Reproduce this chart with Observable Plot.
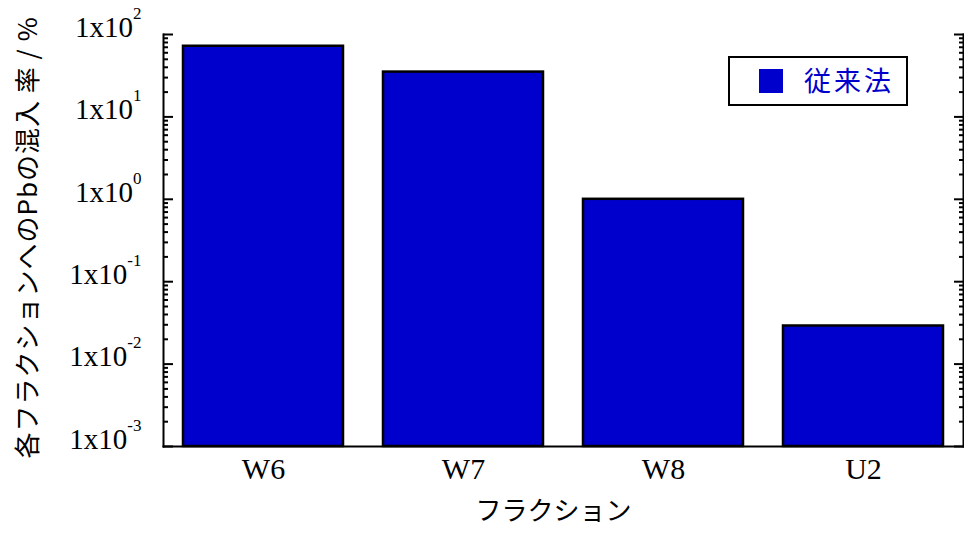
<!DOCTYPE html>
<html>
<head>
<meta charset="utf-8">
<script src="https://cdn.jsdelivr.net/npm/d3@7"></script>
<script src="https://cdn.jsdelivr.net/npm/@observablehq/plot@0.6"></script>
<style>
  html, body { margin: 0; padding: 0; background: #fff; }
  #wrap { position: relative; width: 964px; height: 533px; }
  #legend {
    position: absolute; left: 728px; top: 56px; width: 180px; height: 50px;
    box-sizing: border-box; border: 2px solid #000; background: #fff;
  }
  #legend .sw { position: absolute; left: 29px; top: 11px; width: 24px; height: 24px; background: #0000cd; }
  #legend .lb {
    position: absolute; left: 74px; top: 4px; font: 27px "Noto Sans CJK JP", sans-serif;
    color: #0000cc; line-height: 36px; letter-spacing: 3px;
  }
  .ylabel { letter-spacing: 1px; }
</style>
</head>
<body>
<div id="wrap"></div>
<script>
// Pb carry-over into each fraction (conventional method), percent, log scale
const fractions = ["W6", "W7", "W8", "U2"];
const values = [72, 35, 1.0, 0.029];
const seriesName = "従来法";
const yDomain = [1e-3, 1e2];
const majorTicks = [1e-3, 1e-2, 1e-1, 1e0, 1e1, 1e2];
const exponents = ["-3", "-2", "-1", "0", "1", "2"];
const yLabel = "各フラクションへのPbの混入 率 / %";
const xLabel = "フラクション";

const minorTicks = [];
for (const m of majorTicks.slice(0, -1)) for (let k = 2; k <= 9; k++) minorTicks.push(m * k);

const data = fractions.map((f, i) => ({fraction: f, value: values[i]}));
const expOf = new Map(majorTicks.map((t, i) => [t, exponents[i]]));

const serif = "'Liberation Serif', 'Times New Roman', serif";
const blank = () => "";

const chart = Plot.plot({
  width: 964,
  height: 533,
  marginLeft: 163,
  marginRight: 1,
  marginTop: 34,
  marginBottom: 87,
  style: {background: "#fff", color: "#000"},
  x: {domain: fractions, paddingInner: 0.2, paddingOuter: 0.1, label: null},
  y: {type: "log", domain: yDomain, label: null},
  marks: [
    Plot.barY(data, {
      x: "fraction", y1: yDomain[0], y2: "value",
      fill: "#0000cd", stroke: "#000", strokeWidth: 2.5
    }),
    // frame: left, right and bottom edges
    Plot.frame({anchor: "left", strokeWidth: 2}),
    Plot.frame({anchor: "right", strokeWidth: 2}),
    Plot.frame({anchor: "bottom", strokeWidth: 2}),
    // inward ticks on both vertical axes
    Plot.axisY({anchor: "left", ticks: majorTicks, tickSize: -10, tickFormat: blank, strokeWidth: 2, label: null}),
    Plot.axisY({anchor: "left", ticks: minorTicks, tickSize: -5, tickFormat: blank, strokeWidth: 2, label: null}),
    Plot.axisY({anchor: "right", ticks: majorTicks, tickSize: -10, tickFormat: blank, strokeWidth: 2, label: null}),
    Plot.axisY({anchor: "right", ticks: minorTicks, tickSize: -5, tickFormat: blank, strokeWidth: 2, label: null}),
    // decade labels (1x10^n)
    Plot.axisY({
      anchor: "left", ticks: majorTicks, tickSize: 0, tickPadding: 22, dy: -7,
      tickFormat: d => "1x10|" + expOf.get(d),
      fontSize: 29, fontFamily: serif, label: null, ariaLabel: "decade-labels"
    }),
    Plot.axisX({
      tickSize: 0, tickPadding: 11, fontSize: 30, fontFamily: serif, label: null
    }),
    Plot.text([xLabel], {
      frameAnchor: "bottom", dx: -10, dy: 65, lineAnchor: "middle", fontSize: 26,
      fontFamily: "'Noto Sans CJK JP', sans-serif", fill: "#000"
    }),
    Plot.text([yLabel], {
      frameAnchor: "left", dx: -135, dy: -3, rotate: -90, textAnchor: "middle", lineAnchor: "middle",
      fontSize: 26, fontFamily: "'Noto Sans CJK JP', sans-serif", fill: "#000", className: "ylabel"
    })
  ]
});

// typeset exponents as superscripts
d3.select(chart).selectAll("text").each(function () {
  const t = this.textContent;
  if (!t.startsWith("1x10|")) return;
  const exp = t.split("|")[1];
  const sel = d3.select(this);
  sel.selectAll("*").remove();
  sel.text("1x10");
  sel.append("tspan").attr("dy", "-18").attr("font-size", 17).text(exp);
});

const wrap = document.getElementById("wrap");
wrap.appendChild(chart);

const legend = document.createElement("div");
legend.id = "legend";
legend.innerHTML = '<div class="sw"></div><div class="lb"></div>';
legend.querySelector(".lb").textContent = seriesName;
wrap.appendChild(legend);
</script>
</body>
</html>
